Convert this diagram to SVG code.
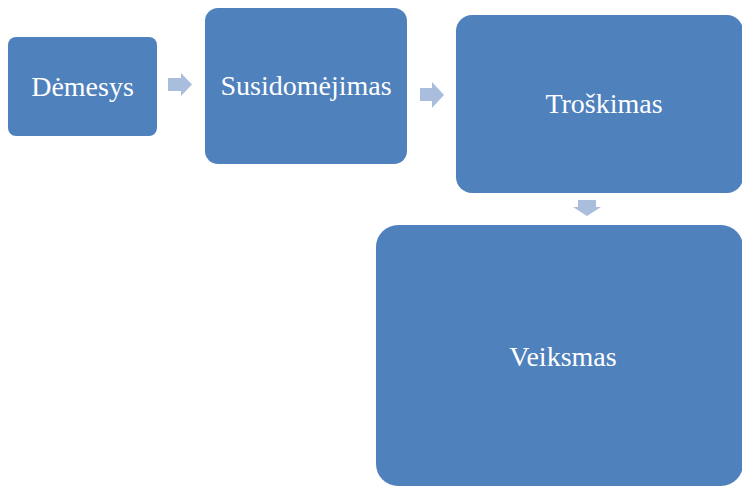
<svg xmlns="http://www.w3.org/2000/svg" width="742" height="487" viewBox="0 0 742 487">
<style>
.box{fill:#4F81BD;}
.lbl{fill:#FFFFFF;font-size:28px;text-anchor:middle;}
.arr{fill:#A9BDDC;}
</style>
<rect width="742" height="487" fill="#FFFFFF"/>
<g id="connectors">
<polygon class="arr" points="168,78 181,78 181,73 192,84.5 181,96 181,91 168,91"/>
<polygon class="arr" points="420,88 432,88 432,82 444,95 432,108 432,101 420,101"/>
<polygon class="arr" points="578,200 596,200 596,207 601,207 587,216 573,207 578,207"/>
</g>
<g id="node-demesys">
<rect class="box" x="8" y="37" width="149" height="99" rx="8"/>
<text class="lbl" font-family="'Liberation Serif', 'DejaVu Serif', serif" x="82.5" y="96">Dėmesys</text>
</g>
<g id="node-susidomejimas">
<rect class="box" x="205" y="8" width="202" height="156" rx="13"/>
<text class="lbl" font-family="'Liberation Serif', 'DejaVu Serif', serif" x="306" y="95">Susidomėjimas</text>
</g>
<g id="node-troskimas">
<rect class="box" x="456" y="15" width="287" height="178" rx="16"/>
<text class="lbl" font-family="'Liberation Serif', 'DejaVu Serif', serif" x="604" y="113">Troškimas</text>
</g>
<g id="node-veiksmas">
<rect class="box" x="376" y="225" width="367" height="261" rx="22"/>
<text class="lbl" font-family="'Liberation Serif', 'DejaVu Serif', serif" x="563" y="366">Veiksmas</text>
</g>
</svg>
